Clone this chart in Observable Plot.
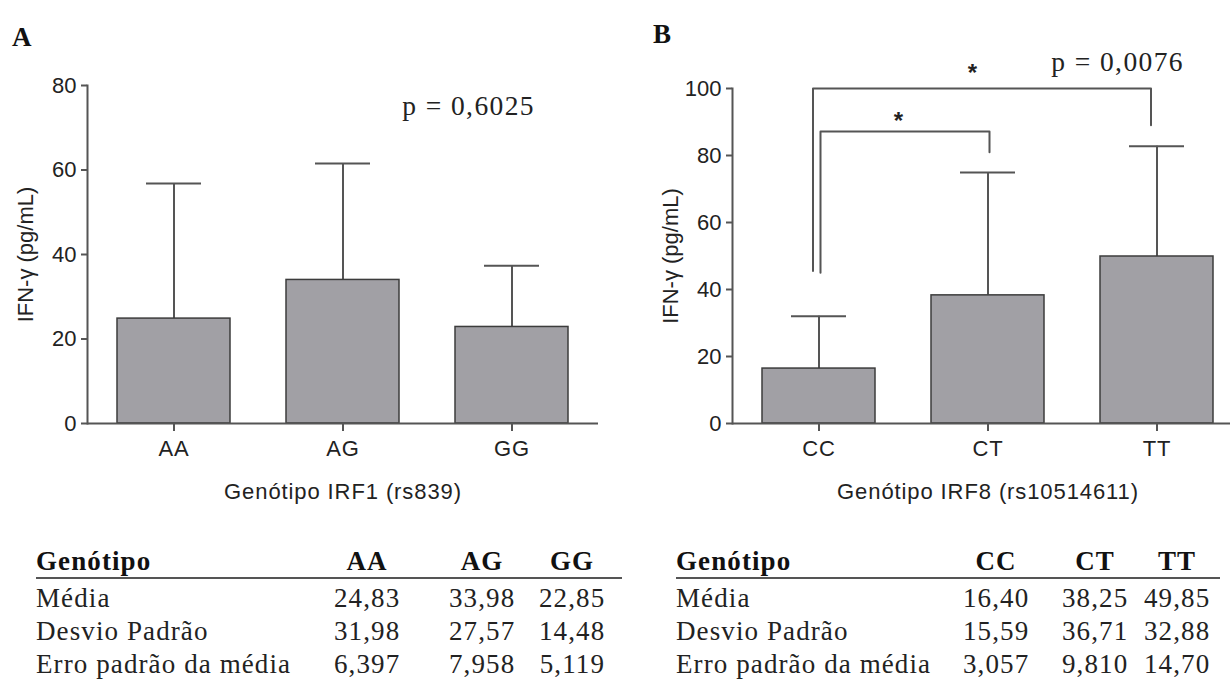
<!DOCTYPE html>
<html>
<head>
<meta charset="utf-8">
<script src="https://cdn.jsdelivr.net/npm/d3@7"></script>
<script src="https://cdn.jsdelivr.net/npm/@observablehq/plot@0.6"></script>
<style>
  html, body { margin: 0; padding: 0; background: #fff; overflow: hidden; }
  #fig { position: relative; width: 1230px; height: 679px; overflow: hidden; background: #fff; }
  .panel { position: absolute; top: 0; width: 615px; height: 520px; }
  .panel svg { max-width: none !important; width: 615px; height: 520px; }
  .panel g[aria-label="x-axis label"] text,
  .panel g[aria-label="x-axis tick label"] text { letter-spacing: 0.9px; }
  .panel g[aria-label="text"] text { letter-spacing: 1.4px; }
  .letter { position: absolute; font-family: "Liberation Serif", "Times New Roman", serif; font-weight: bold; font-size: 27px; color: #111; line-height: 1; letter-spacing: 1px; }
  .tbl { position: absolute; top: 545px; font-family: "Liberation Serif", "Times New Roman", serif; font-size: 27px; color: #222; letter-spacing: 1.1px; }
  .tbl .row { display: grid; height: 33px; line-height: 33px; white-space: nowrap; }
  .tbl .head { font-weight: bold; height: 32px; line-height: 33px; border-bottom: 2px solid #555; margin-bottom: 3px; color: #111; }
  .tbl .v { text-align: right; }
  .tbl .v span { display: inline-block; width: 66px; text-align: right; }
  .tbl .head .v span { text-align: center; }
</style>
</head>
<body>
<div id="fig"></div>
<script>
// ---------- data ----------
const genotypesA = ["AA", "AG", "GG"];
const meanA = [24.83, 33.98, 22.85];
const sdA = [31.98, 27.57, 14.48];
const semA = [6.397, 7.958, 5.119];
const yTicksA = [0, 20, 40, 60, 80];
const pTextA = "p = 0,6025";

const genotypesB = ["CC", "CT", "TT"];
const meanB = [16.40, 38.25, 49.85];
const sdB = [15.59, 36.71, 32.88];
const semB = [3.057, 9.810, 14.70];
const yTicksB = [0, 20, 40, 60, 80, 100];
const pTextB = "p = 0,0076";

// significance brackets in panel B
const bracketFrom = ["CC", "CC"];
const bracketTo = ["TT", "CT"];
const bracketLevel = [100, 87.2];
const bracketFromBase = [45.5, 45];
const bracketToBase = [89, 81];

const rowLabels = ["Média", "Desvio Padrão", "Erro padrão da média"];
const yLabel = "IFN-γ (pg/mL)";
const xLabelA = "Genótipo IRF1 (rs839)";
const xLabelB = "Genótipo IRF8 (rs10514611)";

// ---------- helpers ----------
const AXIS = "#555";
const BAR = "#a1a0a5";

function panel({cats, means, sds, yTicks, marginTop, xLabel, extras}) {
  const data = cats.map((g, i) => ({g, mean: means[i], top: means[i] + sds[i]}));
  return Plot.plot({
    width: 615,
    height: 520,
    marginLeft: 87,
    marginRight: 17,
    marginTop,
    marginBottom: 97,
    style: {fontFamily: "'Liberation Sans', Arial, sans-serif", fontSize: "22px", color: "#222", background: "transparent", overflow: "visible", maxWidth: "none"},
    x: {domain: cats, paddingInner: 0.33, paddingOuter: 0.17, label: null},
    y: {domain: [0, yTicks[yTicks.length - 1]], label: null},
    marks: [
      Plot.ruleX(data, {x: "g", y1: "mean", y2: "top", stroke: AXIS, strokeWidth: 2}),
      Plot.tickY(data, {x: "g", y: "top", stroke: AXIS, strokeWidth: 2, insetLeft: 29, insetRight: 29}),
      Plot.barY(data, {x: "g", y: "mean", fill: BAR, stroke: "#3c3c3c", strokeWidth: 1.5}),
      Plot.ruleY([0], {stroke: AXIS, strokeWidth: 2}),
      Plot.frame({anchor: "left", stroke: AXIS, strokeWidth: 2}),
      Plot.axisY({ticks: yTicks, tickSize: 6, tickPadding: 5, stroke: AXIS, strokeWidth: 2,
                  label: yLabel, labelAnchor: "center", labelOffset: 70, labelArrow: false}),
      Plot.axisX({tickSize: 8, tickPadding: 9, stroke: AXIS, strokeWidth: 2,
                  label: xLabel, labelAnchor: "center", labelOffset: 75, labelArrow: false}),
      ...extras
    ]
  });
}

const serif = "'Liberation Serif', 'Times New Roman', serif";
const sans = "'Liberation Sans', Arial, sans-serif";

// ---------- panel A ----------
const plotA = panel({
  cats: genotypesA, means: meanA, sds: sdA, yTicks: yTicksA, marginTop: 85, xLabel: xLabelA,
  extras: [
    Plot.text([pTextA], {x: () => "GG", y: () => 75, text: d => d, textAnchor: "end", dx: 23,
      fontFamily: serif, fontSize: 27.5, fill: "#222"})
  ]
});

// ---------- panel B ----------
const brackets = bracketFrom.map((f, i) => [
  {x: f, y: bracketFromBase[i]}, {x: f, y: bracketLevel[i]},
  {x: bracketTo[i], y: bracketLevel[i]}, {x: bracketTo[i], y: bracketToBase[i]}
]);
const plotB = panel({
  cats: genotypesB, means: meanB, sds: sdB, yTicks: yTicksB, marginTop: 88, xLabel: xLabelB,
  extras: [
    Plot.line(brackets[0], {x: "x", y: "y", dx: -6, stroke: AXIS, strokeWidth: 2}),
    Plot.line(brackets[1], {x: "x", y: "y", dx: 1.5, stroke: AXIS, strokeWidth: 2}),
    Plot.text(["*"], {x: () => "CT", y: () => 104.5, text: d => d, dx: -15, fontFamily: sans, fontWeight: "bold", fontSize: 24, fill: "#222"}),
    Plot.text(["*"], {x: () => "CC", y: () => 90.3, text: d => d, dx: 80, fontFamily: sans, fontWeight: "bold", fontSize: 24, fill: "#222"}),
    Plot.text([pTextB], {x: () => "TT", y: () => 107.8, text: d => d, textAnchor: "end", dx: 27,
      fontFamily: serif, fontSize: 27.5, fill: "#222"})
  ]
});

// ---------- layout ----------
const fig = document.getElementById("fig");
function place(el, left) {
  const wrap = document.createElement("div");
  wrap.className = "panel";
  wrap.style.left = left + "px";
  wrap.appendChild(el);
  fig.appendChild(wrap);
}
place(plotA, 0);
place(plotB, 645);

function letter(t, left, top) {
  const d = document.createElement("div");
  d.className = "letter";
  d.textContent = t;
  d.style.left = left + "px";
  d.style.top = top + "px";
  fig.appendChild(d);
}
letter("A", 12, 24);
letter("B", 653, 21);

const fmt = v => v.toPrecision(4).replace(".", ",");
function table(left, cols, cats, rows) {
  const t = document.createElement("div");
  t.className = "tbl";
  t.style.left = left + "px";
  const tpl = cols.map(c => c + "px").join(" ");
  const head = document.createElement("div");
  head.className = "row head";
  head.style.gridTemplateColumns = tpl;
  head.innerHTML = `<div>Genótipo</div>` + cats.map(c => `<div class="v"><span>${c}</span></div>`).join("") + `<div></div>`;
  t.appendChild(head);
  rows.forEach((vals, i) => {
    const r = document.createElement("div");
    r.className = "row";
    r.style.gridTemplateColumns = tpl;
    r.innerHTML = `<div>${rowLabels[i]}</div>` + vals.map(v => `<div class="v"><span>${fmt(v)}</span></div>`).join("") + `<div></div>`;
    t.appendChild(r);
  });
  fig.appendChild(t);
}
table(36, [298, 64, 117, 90, 17], genotypesA, [meanA, sdA, semA]);
table(676, [287, 64, 101, 82, 10], genotypesB, [meanB, sdB, semB]);
</script>
</body>
</html>
